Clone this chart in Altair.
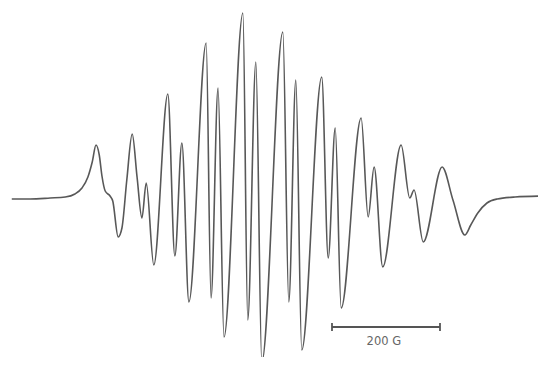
import altair as alt
import pandas as pd

# EPR spectrum: magnetic field (G, relative) and derivative signal (arb. units)
field = [7, 41, 78, 106, 124, 137, 148, 156, 163, 169, 174, 180, 189, 194,
         204, 211, 220, 230, 239, 248, 256, 270, 296, 309, 322, 335, 367, 376,
         389, 400, 435, 444, 459, 470, 509, 520, 533, 544, 581, 593, 606, 617,
         654, 667, 678, 694, 728, 744, 752, 769, 804, 824, 846, 857, 870, 887,
         906, 939, 996]
signal = [-1, -1, 0, 1, 4, 10, 21, 36, 53, 43, 22, 7, 2, -3,
          -39, -30, 18, 64, 21, -20, 15, -67, 104, -58, 55, -104, 155, -100,
          110, -139, 185, -122, 136, -164, 166, -104, 118, -152, 121, -60, 70, -110,
          80, -19, 31, -69, 53, 0, 8, -44, 31, -2, -37, -27, -15, -5,
          -1, 1, 2]

bar_start = [600]
bar_end = [800]
bar_label = ["200 G"]

df = pd.DataFrame({"field": field, "signal": signal})
xs = alt.Scale(domain=[0, 981.5], nice=False, zero=False)
ys = alt.Scale(domain=[-159, 190], nice=False, zero=False)

line = alt.Chart(df).mark_line(color="#585858", strokeWidth=1.6, interpolate="monotone", clip=True).encode(
    x=alt.X("field:Q", scale=xs, axis=None),
    y=alt.Y("signal:Q", scale=ys, axis=None),
)

bar_df = pd.DataFrame({"x": bar_start, "x2": bar_end, "y": [-129], "label": bar_label})
bar = alt.Chart(bar_df).mark_rule(color="#555555", strokeWidth=1.8).encode(
    x=alt.X("x:Q", scale=xs, axis=None), x2="x2:Q", y=alt.Y("y:Q", scale=ys, axis=None)
)
caps_df = pd.DataFrame({"x": bar_start + bar_end, "y": [-125, -125], "y2": [-133, -133]})
caps = alt.Chart(caps_df).mark_rule(color="#555555", strokeWidth=1.8).encode(
    x=alt.X("x:Q", scale=xs, axis=None), y=alt.Y("y:Q", scale=ys, axis=None), y2="y2:Q"
)
label_df = pd.DataFrame({"x": [696], "y": [-144], "label": bar_label})
label = alt.Chart(label_df).mark_text(color="#666666", fontSize=11.5, font="DejaVu Sans", baseline="middle").encode(
    x=alt.X("x:Q", scale=xs, axis=None), y=alt.Y("y:Q", scale=ys, axis=None), text="label:N"
)

chart = alt.layer(line, bar, caps, label).properties(
    width=530, height=349, padding=0, autosize=alt.AutoSizeParams(type="none")
).configure_view(stroke=None)

chart.save("out.html", embed_options={"renderer": "svg", "actions": False})
